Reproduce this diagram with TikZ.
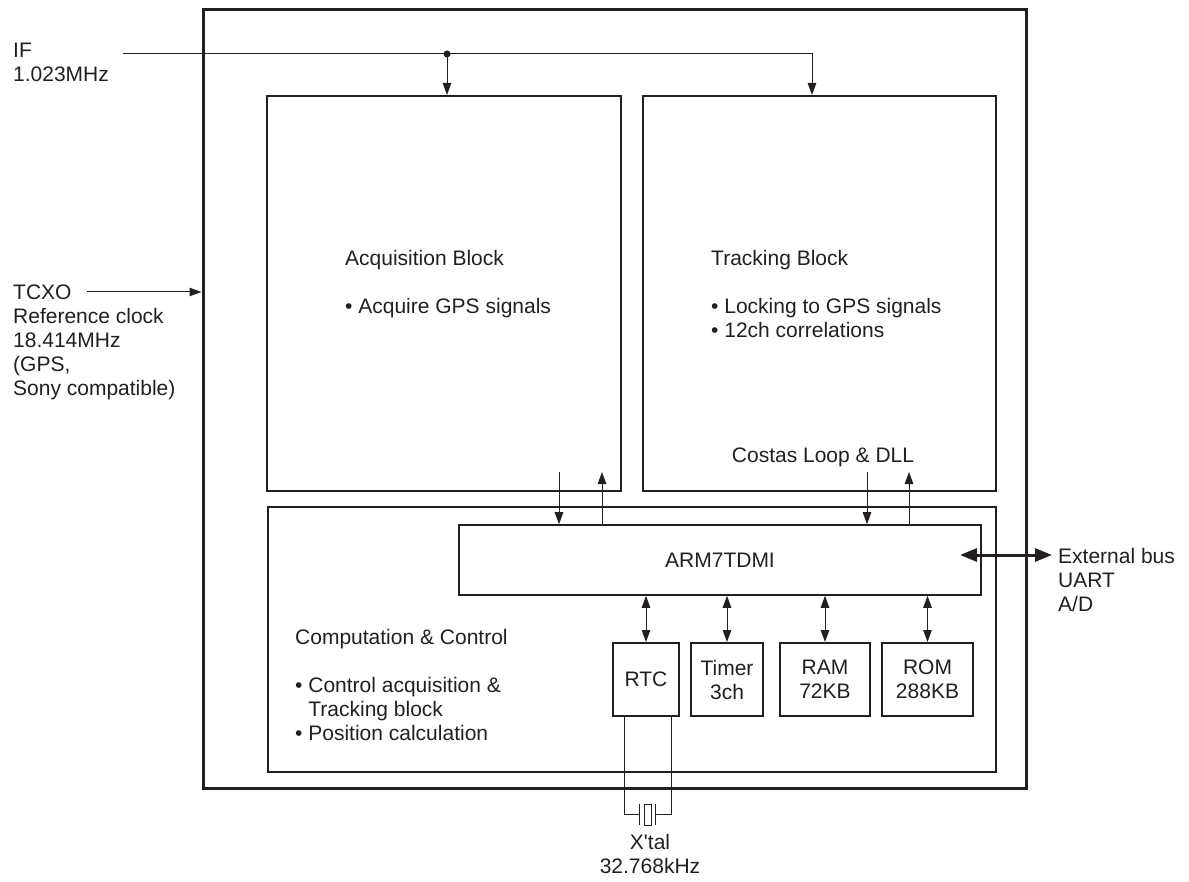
\documentclass[tikz,border=0pt]{standalone}
\usepackage{fontspec}
\setmainfont{Liberation Sans}[Ligatures=TeXOff]
\usetikzlibrary{arrows.meta}
\definecolor{ink}{HTML}{231F20}
\begin{document}
\begin{tikzpicture}[x=1pt,y=-1pt,
  every node/.style={font=\fontsize{21}{24}\selectfont, text=ink},
  box/.style={draw=ink, line width=2pt, inner sep=0pt, rectangle},
  txt/.style={inner sep=0pt, align=left, anchor=base west},
  conn/.style={draw=ink, line width=1pt},
  arr/.style={conn, -{Triangle[length=12pt,width=8.5pt]}},
  darr/.style={conn, {Triangle[length=12pt,width=8.5pt]}-{Triangle[length=12pt,width=8.5pt]}},
  busarr/.style={draw=ink, line width=3pt, {Triangle[length=17pt,width=13pt]}-{Triangle[length=17pt,width=13pt]}}
]
\useasboundingbox (0,0) rectangle (1189,882);

% blocks
\node[box, line width=3pt, minimum width=823pt, minimum height=778pt] (outer) at (614.5,399) {};
\node[box, minimum width=354pt, minimum height=395pt] (acq) at (444,293.5) {};
\node[box, minimum width=353pt, minimum height=395pt] (track) at (819.5,293.5) {};
\node[box, line width=1.6pt, minimum width=728pt, minimum height=265pt] (comp) at (632,639.5) {};
\node[box, line width=1.6pt, minimum width=522pt, minimum height=70pt] (arm) at (720,560) {ARM7TDMI};
\node[box, minimum width=66pt, minimum height=73pt] (rtc) at (646,679.5) {RTC};
\node[box, minimum width=72pt, minimum height=73pt, align=center] (timer) at (727,679.5) {Timer\\3ch};
\node[box, minimum width=90pt, minimum height=73pt, align=center] (ram) at (825,679.5) {RAM\\72KB};
\node[box, minimum width=91pt, minimum height=73pt, align=center] (rom) at (927.5,679.5) {ROM\\288KB};

% texts (anchored at the baseline of their last line)
\node[txt] (iftxt) at (13,82) {IF\\1.023MHz};
\node[txt] (tcxotxt) at (13,395.5) {TCXO\\Reference clock\\18.414MHz\\(GPS,\\Sony compatible)};
\node[txt] (acqtxt) at (345,313.5) {Acquisition Block\\[24pt]\textbullet\ Acquire GPS signals};
\node[txt] (tracktxt) at (711,337.5) {Tracking Block\\[24pt]\textbullet\ Locking to GPS signals\\\textbullet\ 12ch correlations};
\node[inner sep=0pt, anchor=base] (costas) at (823,462.5) {Costas Loop \& DLL};
\node[txt] (comptxt) at (295,740.5) {Computation \& Control\\[24pt]\textbullet\ Control acquisition \&\\\phantom{\textbullet\ }Tracking block\\\textbullet\ Position calculation};
\node[txt] (bustxt) at (1058,611) {External bus\\UART\\A/D};
\node[inner sep=0pt, align=center, anchor=base] (xtaltxt) at (650,873) {X'tal\\32.768kHz};

% IF input
\coordinate (ifstart) at (123,54);
\coordinate (ifsplit) at (447,54);
\coordinate (ifturn) at (812,54);
\draw[arr] (ifstart) -- (ifturn) -- (ifturn |- track.north);
\draw[arr] (ifsplit) -- (ifsplit |- acq.north);
\fill[ink] (ifsplit) circle (3.5pt);

% TCXO
\coordinate (tcxostart) at (87,292);
\draw[arr] (tcxostart) -- (tcxostart -| outer.west);

% acquisition / tracking <-> ARM
\coordinate (acqd) at (559,472);
\coordinate (acqu) at (602,472);
\coordinate (trkd) at (867,472);
\coordinate (trku) at (909,472);
\draw[arr] (acqd) -- (acqd |- arm.north);
\draw[arr] (acqu |- arm.north) -- (acqu);
\draw[arr] (trkd) -- (trkd |- arm.north);
\draw[arr] (trku |- arm.north) -- (trku);

% ARM <-> peripherals
\foreach \n in {rtc,timer,ram,rom}
  \draw[darr] (\n.north |- arm.south) -- (\n.north);

% external bus
\coordinate (busin) at (960,555);
\coordinate (busout) at (1052,555);
\draw[busarr] (busin) -- (busout);

% crystal
\coordinate (xl) at (624,716);
\coordinate (xr) at (671,716);
\coordinate (pl) at (639,814.5);
\coordinate (pr) at (655,814.5);
\draw[conn] (xl |- rtc.south) |- (pl);
\draw[conn] (xr |- rtc.south) |- (pr);
\draw[conn] (639,804) -- (639,825);
\draw[conn] (655,804) -- (655,825);
\draw[conn] (644,804) rectangle (651,825);
\end{tikzpicture}
\end{document}
